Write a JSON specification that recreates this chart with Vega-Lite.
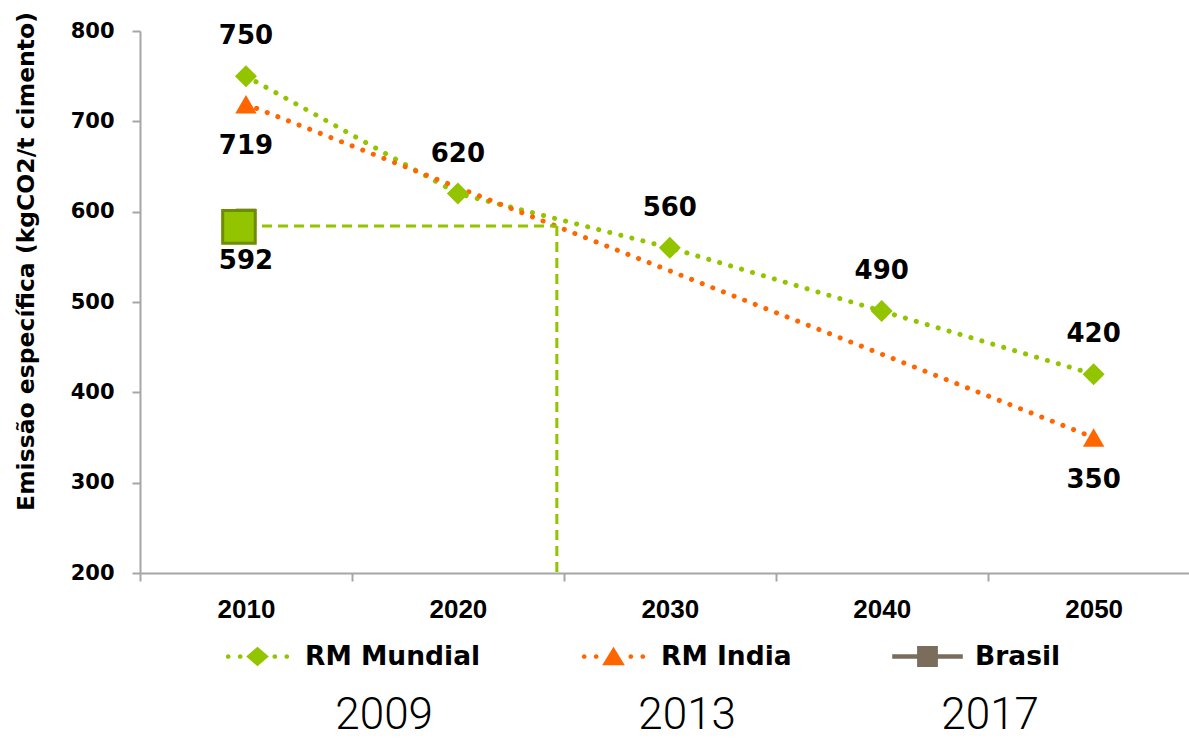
{
  "$schema": "https://vega.github.io/schema/vega-lite/v6.json",
  "width": 1049,
  "height": 542,
  "autosize": {"type": "none"},
  "padding": {"left": 140, "top": 31, "right": 0, "bottom": 167},
  "background": "white",
  "config": {
    "view": {"stroke": null},
    "text": {"font": "DejaVu Sans", "fontWeight": "bold", "fontSize": 26, "color": "black"}
  },
  "datasets": {
    "roteiros": [
      {"serie": "RM Mundial", "ano": 2010, "valor": 750},
      {"serie": "RM Mundial", "ano": 2020, "valor": 620},
      {"serie": "RM Mundial", "ano": 2030, "valor": 560},
      {"serie": "RM Mundial", "ano": 2040, "valor": 490},
      {"serie": "RM Mundial", "ano": 2050, "valor": 420},
      {"serie": "RM India", "ano": 2010, "valor": 719},
      {"serie": "RM India", "ano": 2050, "valor": 350},
      {"serie": "Brasil", "ano": 2010, "valor": 592}
    ],
    "cruzamento": [
      {"ano_brasil": 2010, "ano_cruzamento": 2024.67, "valor": 592, "piso": 200}
    ],
    "marcos": [
      {"marco": "2009"},
      {"marco": "2013"},
      {"marco": "2017"}
    ]
  },
  "layer": [
    {
      "encoding": {
        "x": {
          "field": "ano",
          "type": "quantitative",
          "scale": {"domain": [2005, 2054.5], "nice": false, "zero": false},
          "axis": {
            "values": [2005, 2010, 2015, 2020, 2025, 2030, 2035, 2040, 2045, 2050],
            "format": "d",
            "labelExpr": "datum.value % 10 == 0 ? datum.label : ''",
            "tickOpacity": {"condition": {"test": "datum.value % 10 == 0", "value": 0}, "value": 1},
            "grid": false,
            "title": null,
            "domainColor": "#a6a6a6",
            "domainWidth": 2,
            "tickColor": "#a6a6a6",
            "tickWidth": 2,
            "tickSize": 8,
            "labelFont": "Liberation Sans",
            "labelFontWeight": "bold",
            "labelFontSize": 26,
            "labelColor": "black",
            "labelPadding": 15,
            "labelOverlap": false,
            "labelFlush": false
          }
        },
        "y": {
          "field": "valor",
          "type": "quantitative",
          "scale": {"domain": [200, 800], "nice": false, "zero": false},
          "axis": {
            "values": [200, 300, 400, 500, 600, 700, 800],
            "grid": false,
            "title": "Emissão específica  (kgCO2/t cimento)",
            "titleFont": "DejaVu Sans",
            "titleFontWeight": "bold",
            "titleFontSize": 23.5,
            "titleColor": "black",
            "titleX": -102,
            "titleY": 230,
            "domainColor": "#a6a6a6",
            "domainWidth": 2,
            "tickColor": "#a6a6a6",
            "tickWidth": 2,
            "tickSize": 8,
            "labelFont": "DejaVu Sans",
            "labelFontWeight": "bold",
            "labelFontSize": 21,
            "labelColor": "black",
            "labelPadding": 18
          }
        }
      },
      "layer": [
        {
          "data": {"name": "roteiros"},
          "transform": [{"filter": "datum.serie == 'RM Mundial'"}],
          "mark": {"type": "line", "color": "#92c400", "strokeWidth": 5, "strokeDash": [0.1, 11.3], "strokeCap": "round"}
        },
        {
          "data": {"name": "roteiros"},
          "transform": [{"filter": "datum.serie == 'RM India'"}],
          "mark": {"type": "line", "color": "#ff6600", "strokeWidth": 5, "strokeDash": [0.1, 11.3], "strokeCap": "round"}
        },
        {
          "data": {"name": "cruzamento"},
          "mark": {"type": "rule", "color": "#92c400", "strokeWidth": 3, "strokeDash": [10, 6], "yOffset": 7},
          "encoding": {
            "x": {"field": "ano_brasil", "type": "quantitative"},
            "x2": {"field": "ano_cruzamento"},
            "y": {"field": "valor", "type": "quantitative"}
          }
        },
        {
          "data": {"name": "cruzamento"},
          "mark": {"type": "rule", "color": "#92c400", "strokeWidth": 3, "strokeDash": [10, 6], "yOffset": 7},
          "encoding": {
            "x": {"field": "ano_cruzamento", "type": "quantitative"},
            "y": {"field": "valor", "type": "quantitative"},
            "y2": {"field": "piso"}
          }
        },
        {
          "data": {"name": "roteiros"},
          "transform": [{"filter": "datum.serie == 'RM Mundial'"}],
          "mark": {"type": "point", "shape": "diamond", "filled": true, "color": "#92c400", "size": 484, "opacity": 1}
        },
        {
          "data": {"name": "roteiros"},
          "transform": [{"filter": "datum.serie == 'RM India'"}],
          "mark": {"type": "point", "shape": "triangle-up", "filled": true, "color": "#ff6600", "size": 460, "opacity": 1}
        },
        {
          "data": {"name": "roteiros"},
          "transform": [{"filter": "datum.serie == 'Brasil'"}],
          "mark": {"type": "point", "shape": "square", "filled": true, "color": "#7a6d5b", "size": 420, "opacity": 1}
        },
        {
          "data": {"name": "roteiros"},
          "transform": [{"filter": "datum.serie == 'Brasil'"}],
          "mark": {"type": "point", "shape": "square", "filled": true, "fill": "#92c400", "stroke": "#6e8c00", "strokeWidth": 3, "size": 1060, "opacity": 1, "xOffset": -7, "yOffset": 8}
        },
        {
          "data": {"name": "roteiros"},
          "transform": [{"filter": "datum.serie == 'RM Mundial'"}],
          "mark": {"type": "text", "dy": -40, "baseline": "middle"},
          "encoding": {"text": {"field": "valor", "type": "quantitative"}}
        },
        {
          "data": {"name": "roteiros"},
          "transform": [{"filter": "datum.serie != 'RM Mundial'"}],
          "mark": {"type": "text", "dy": 42, "baseline": "middle"},
          "encoding": {"text": {"field": "valor", "type": "quantitative"}}
        },
        {
          "data": {"values": []},
          "mark": {"type": "point", "filled": true, "size": 3969, "opacity": 1},
          "encoding": {
            "color": {
              "field": "serie",
              "type": "nominal",
              "scale": {"domain": ["RM Mundial", "RM India", "Brasil"], "range": ["#92c400", "#ff6600", "#7a6d5b"]},
              "legend": {
                "title": null,
                "orient": "none",
                "legendX": 86,
                "legendY": 594,
                "direction": "horizontal",
                "columns": 3,
                "padding": 0,
                "columnPadding": 100,
                "symbolSize": 3969,
                "symbolStrokeWidth": 0,
                "symbolOpacity": 1,
                "labelFont": "DejaVu Sans",
                "labelFontWeight": "bold",
                "labelFontSize": 26.5,
                "labelColor": "black",
                "labelOffset": 16,
                "labelLimit": 400
              }
            },
            "shape": {
              "field": "serie",
              "type": "nominal",
              "scale": {
                "domain": ["RM Mundial", "RM India", "Brasil"],
                "range": [
                  "M-1.005,0a0.075,0.075 0 1,0 0.15,0a0.075,0.075 0 1,0 -0.15,0Z M-0.625,0a0.075,0.075 0 1,0 0.15,0a0.075,0.075 0 1,0 -0.15,0Z M0.475,0a0.075,0.075 0 1,0 0.15,0a0.075,0.075 0 1,0 -0.15,0Z M0.855,0a0.075,0.075 0 1,0 0.15,0a0.075,0.075 0 1,0 -0.15,0Z M-0.36,0L0,-0.31L0.36,0L0,0.31Z",
                  "M-1.005,0a0.075,0.075 0 1,0 0.15,0a0.075,0.075 0 1,0 -0.15,0Z M-0.625,0a0.075,0.075 0 1,0 0.15,0a0.075,0.075 0 1,0 -0.15,0Z M0.475,0a0.075,0.075 0 1,0 0.15,0a0.075,0.075 0 1,0 -0.15,0Z M0.855,0a0.075,0.075 0 1,0 0.15,0a0.075,0.075 0 1,0 -0.15,0Z M0,-0.31L0.36,0.28L-0.36,0.28Z",
                  "M-1.12,-0.075L1.12,-0.075L1.12,0.075L-1.12,0.075Z M-0.33,-0.33L0.33,-0.33L0.33,0.33L-0.33,0.33Z"
                ]
              }
            }
          }
        }
      ]
    },
    {
      "data": {"name": "marcos"},
      "mark": {"type": "text", "text": ""},
      "encoding": {
        "x": {
          "field": "marco",
          "type": "ordinal",
          "scale": {"type": "point", "padding": 0.731, "align": 0.55},
          "axis": {
            "orient": "bottom",
            "offset": 115,
            "domain": false,
            "ticks": false,
            "tickSize": 0,
            "grid": false,
            "title": null,
            "labelAngle": 0,
            "labelPadding": 5,
            "labelFont": "Roboto",
            "labelFontWeight": 300,
            "labelFontSize": 44,
            "labelColor": "black"
          }
        }
      }
    }
  ],
  "resolve": {"scale": {"x": "independent"}}
}
